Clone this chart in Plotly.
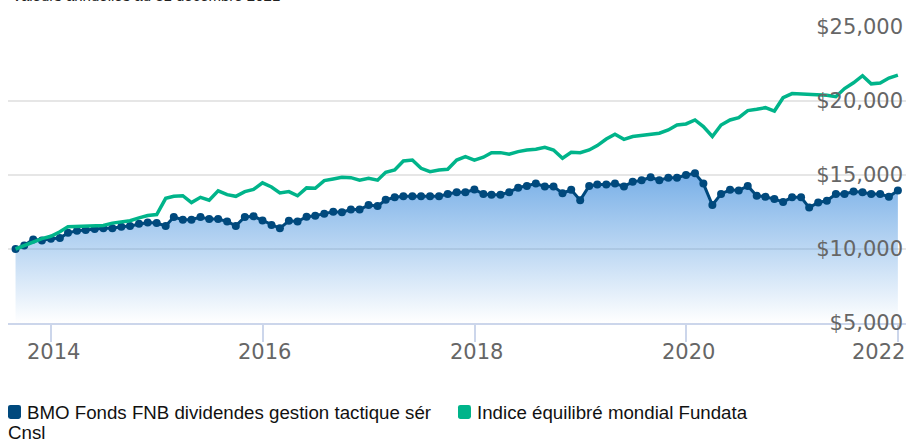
import pandas as pd
import plotly.graph_objects as go

# ---------------- data ----------------
start_month = "2013-08-31"
n_points = 101
fund_name = "BMO Fonds FNB dividendes gestion tactique sér"
fund_name_line2 = "Cnsl"
index_name = "Indice équilibré mondial Fundata"
subtitle = "Valeurs annuelles au 31 décembre 2021"

fund_values = [
    10000, 10230, 10650, 10580, 10700, 10740, 11090, 11230, 11280, 11350,
    11400, 11400, 11510, 11560, 11700, 11790, 11750, 11560, 12160, 11980,
    11980, 12160, 12020, 12020, 11860, 11560, 12160, 12210, 11930, 11630,
    11400, 11910, 11860, 12180, 12250, 12390, 12510, 12480, 12670, 12670,
    12970, 12900, 13320, 13490, 13560, 13560, 13560, 13560, 13560, 13720,
    13840, 13840, 14020, 13720, 13670, 13670, 13840, 14140, 14260, 14420,
    14230, 14230, 13770, 14000, 13300, 14260, 14350, 14350, 14420, 14230,
    14540, 14650, 14840, 14650, 14820, 14820, 15000, 15110, 14420, 12970,
    13720, 14000, 13950, 14260, 13600, 13530, 13370, 13180, 13490, 13490,
    12800, 13140, 13260, 13720, 13720, 13880, 13840, 13720, 13720, 13530,
    13950,
]

index_values = [
    10000, 10230, 10510, 10700, 10860, 11160, 11510, 11540, 11560, 11570,
    11590, 11750, 11860, 11910, 12100, 12260, 12330, 13420, 13560, 13600,
    13140, 13490, 13300, 13930, 13670, 13560, 13880, 14020, 14470, 14190,
    13790, 13880, 13600, 14130, 14100, 14620, 14730, 14840, 14820, 14650,
    14780, 14650, 15180, 15340, 15950, 16010, 15450, 15230, 15340, 15390,
    16010, 16240, 16010, 16200, 16510, 16510, 16400, 16580, 16690, 16740,
    16870, 16690, 16130, 16530, 16510, 16690, 16990, 17430, 17750, 17410,
    17600, 17660, 17750, 17820, 18040, 18380, 18450, 18720, 18270, 17600,
    18380, 18720, 18880, 19350, 19440, 19550, 19320, 20220, 20500, 20460,
    20440, 20390, 20390, 20290, 20840, 21230, 21710, 21160, 21210, 21550,
    21750,
]

x_tick_years = ["2014", "2016", "2018", "2020", "2022"]
y_tick_values = [5000, 10000, 15000, 20000, 25000]
y_tick_labels = ["$5,000", "$10,000", "$15,000", "$20,000", "$25,000"]

dates = pd.date_range(start_month, periods=n_points, freq=pd.offsets.MonthEnd())

# ---------------- style ----------------
W, H = 906, 440
ML, MR, MT, MB = 8, 0, 27, 117
PW, PH = W - ML - MR, H - MT - MB
BLUE = "#00497d"
GREEN = "#00b48a"
AXIS_C = "#ccd6eb"
GRID_C = "#e6e6e6"
LABEL_C = "#666666"
TICK_FONT = dict(family="DejaVu Sans", size=21, color=LABEL_C)
LEG_FONT = dict(family="Liberation Sans, Arial", size=18.7, color="#111111")


def px(xp):
    return (xp - ML) / PW


def py(yp):
    return (MT + PH - yp) / PH


def rrect(x0, y0, x1, y1, r):
    def P(a, b):
        return f"{px(a):.5f},{py(b):.5f}"
    return (f"M{P(x0 + r, y0)} L{P(x1 - r, y0)} Q{P(x1, y0)} {P(x1, y0 + r)} "
            f"L{P(x1, y1 - r)} Q{P(x1, y1)} {P(x1 - r, y1)} L{P(x0 + r, y1)} "
            f"Q{P(x0, y1)} {P(x0, y1 - r)} L{P(x0, y0 + r)} Q{P(x0, y0)} {P(x0 + r, y0)} Z")


fig = go.Figure()

fig.add_trace(go.Scatter(
    x=dates, y=fund_values, name=fund_name, mode="lines+markers",
    line=dict(color=BLUE, width=3),
    marker=dict(size=8, color=BLUE),
    fill="tozeroy",
    fillgradient=dict(
        type="vertical",
        colorscale=[[0, "rgba(69,145,222,0)"], [1, "rgba(69,145,222,0.72)"]],
        start=5000, stop=15000,
    ),
))

fig.add_trace(go.Scatter(
    x=dates, y=index_values, name=index_name, mode="lines",
    line=dict(color=GREEN, width=3.5),
))

fig.update_layout(
    width=W, height=H,
    margin=dict(l=ML, r=MR, t=MT, b=MB),
    plot_bgcolor="white", paper_bgcolor="white",
    showlegend=False,
    xaxis=dict(
        type="date",
        range=["2013-08-05", "2022-01-28"],
        tickvals=[f"{y}-01-01" for y in x_tick_years],
        showticklabels=False,
        ticks="outside", ticklen=17, tickwidth=2, tickcolor=AXIS_C,
        showline=True, linecolor=AXIS_C, linewidth=2,
        showgrid=False, zeroline=False,
    ),
    yaxis=dict(
        range=[5000, 25000],
        side="right",
        tickvals=y_tick_values, ticktext=y_tick_labels,
        ticklabelposition="inside",
        ticklabeloverflow="allow",
        tickfont=TICK_FONT,
        gridcolor=GRID_C, gridwidth=2,
        showline=False, zeroline=False, ticks="",
    ),
)

annotations = []
for yr in x_tick_years:
    last = yr == x_tick_years[-1]
    annotations.append(dict(
        x=f"{yr}-01-01", xref="x", y=py(352), yref="paper",
        text=yr, showarrow=False, font=TICK_FONT,
        xanchor="right" if last else "center", yanchor="middle",
        xshift=9 if last else 2,
    ))

annotations.append(dict(
    x=px(10), y=py(6), xref="paper", yref="paper", text=subtitle,
    showarrow=False, xanchor="left", yanchor="bottom",
    font=dict(family="Liberation Sans, Arial", size=15, color="#222222"),
))

annotations += [
    dict(x=px(25), y=py(412), xref="paper", yref="paper", text=fund_name,
         showarrow=False, xanchor="left", yanchor="middle", font=LEG_FONT),
    dict(x=px(6), y=py(432), xref="paper", yref="paper", text=fund_name_line2,
         showarrow=False, xanchor="left", yanchor="middle", font=LEG_FONT),
    dict(x=px(475), y=py(412), xref="paper", yref="paper", text=index_name,
         showarrow=False, xanchor="left", yanchor="middle", font=LEG_FONT),
]
fig.update_layout(annotations=annotations)

fig.add_shape(type="path", xref="paper", yref="paper",
              path=rrect(8, 405, 21, 419, 2.5), fillcolor=BLUE, line_width=0)
fig.add_shape(type="path", xref="paper", yref="paper",
              path=rrect(458, 405, 471, 419, 2.5), fillcolor=GREEN, line_width=0)

fig.write_html(
    "out.html",
    config={"displayModeBar": False},
    post_script="document.body.style.margin='0';document.body.style.padding='0';"
                "document.body.style.overflow='hidden';",
)
